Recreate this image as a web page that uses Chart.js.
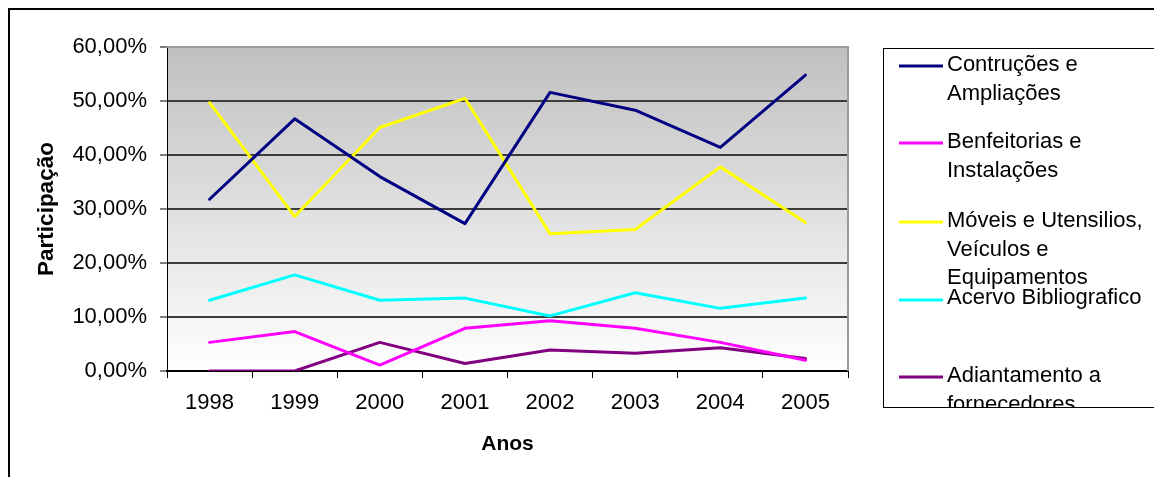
<!DOCTYPE html>
<html>
<head>
<meta charset="utf-8">
<script src="https://cdn.jsdelivr.net/npm/chart.js@4"></script>
<style>
  html, body { margin: 0; padding: 0; background: #fff; overflow: hidden; }
  #frame { position: absolute; left: 8px; top: 8px; width: 1200px; height: 520px; border: 2px solid #000; }
  #wrap { position: absolute; left: 0; top: 0; width: 1154px; height: 477px; }
</style>
</head>
<body>
<div id="frame"></div>
<div id="wrap"><canvas id="grafico" width="1154" height="477"></canvas></div>
<script>
var anos = ["1998", "1999", "2000", "2001", "2002", "2003", "2004", "2005"]
var construcoes = [31.8, 46.7, 36.0, 27.3, 51.6, 48.3, 41.4, 54.8]
var benfeitorias = [5.3, 7.3, 1.1, 7.9, 9.3, 7.9, 5.3, 2.0]
var moveis = [49.7, 28.6, 45.1, 50.5, 25.4, 26.2, 37.8, 27.5]
var acervo = [13.1, 17.8, 13.1, 13.5, 10.2, 14.5, 11.6, 13.5]
var adiantamento = [0, 0, 5.3, 1.4, 3.9, 3.3, 4.3, 2.3]
var yTicks = [0, 10, 20, 30, 40, 50, 60]

var nomes = [
  ["Contruções e", "Ampliações"],
  ["Benfeitorias e", "Instalações"],
  ["Móveis e Utensilios,", "Veículos e", "Equipamentos"],
  ["Acervo Bibliografico"],
  ["Adiantamento a", "fornecedores"]
]
var cores = ["#000080", "#FF00FF", "#FFFF00", "#00FFFF", "#800080"]
var series = [construcoes, benfeitorias, moveis, acervo, adiantamento]

var fonte = "'Liberation Sans', Arial, sans-serif"

// fundo degradê + borda cinza da área de plotagem
var fundo = {
  id: 'fundo',
  beforeDatasetsDraw: function(chart) {
    var a = chart.chartArea, ctx = chart.ctx
    ctx.save()
    var g = ctx.createLinearGradient(0, a.top, 0, a.bottom)
    g.addColorStop(0, '#c0c0c0')
    g.addColorStop(1, '#ffffff')
    ctx.fillStyle = g
    ctx.globalCompositeOperation = 'destination-over'
    ctx.fillRect(a.left, a.top, a.right - a.left, a.bottom - a.top)
    ctx.globalCompositeOperation = 'source-over'
    ctx.strokeStyle = '#9a9a9a'
    ctx.lineWidth = 2
    ctx.beginPath()
    ctx.moveTo(a.left, a.top)
    ctx.lineTo(a.right, a.top)
    ctx.lineTo(a.right, a.bottom)
    ctx.stroke()
    ctx.restore()
  }
}

// legenda estilo Excel (caixa cortada à direita e embaixo)
var legenda = {
  id: 'legenda',
  afterDraw: function(chart) {
    var ctx = chart.ctx
    var bx = 883, by = 48, bb = 408
    var linhaY = [66, 143, 222, 300, 377]
    var textoY = [65, 142, 221, 298, 376]
    ctx.save()
    ctx.beginPath()
    ctx.rect(bx, by, chart.width - bx, bb - by)
    ctx.clip()
    ctx.strokeStyle = '#000'
    ctx.lineWidth = 1
    ctx.strokeRect(bx + 0.5, by + 0.5, chart.width, bb - by - 1)
    chart.data.datasets.forEach(function(ds, i) {
      ctx.strokeStyle = ds.borderColor
      ctx.lineWidth = 3
      ctx.beginPath()
      ctx.moveTo(899, linhaY[i])
      ctx.lineTo(943, linhaY[i])
      ctx.stroke()
      ctx.fillStyle = '#000'
      ctx.font = '22px ' + fonte
      ctx.textBaseline = 'middle'
      ctx.textAlign = 'left'
      nomes[i].forEach(function(t, j) {
        ctx.fillText(t, 947, textoY[i] + j * 28.5)
      })
    })
    ctx.restore()
  }
}

new Chart("grafico", {
  type: "line",
  data: {
    labels: anos,
    datasets: series.map(function(s, i) {
      return {
        label: nomes[i].join(" "),
        data: s,
        borderColor: cores[i],
        backgroundColor: cores[i],
        borderWidth: 3,
        pointRadius: 0,
        tension: 0,
        borderJoinStyle: 'round',
        borderCapStyle: 'round',
        order: i
      }
    })
  },
  options: {
    responsive: false,
    animation: false,
    layout: {
      padding: { top: 47, right: 306, left: 0, bottom: 0 }
    },
    plugins: {
      legend: { display: false },
      tooltip: { enabled: false }
    },
    scales: {
      y: {
        min: 0,
        max: 60,
        afterFit: function(scale) { scale.width = 167 },
        afterBuildTicks: function(scale) { scale.ticks = yTicks.map(function(v) { return { value: v } }) },
        ticks: {
          color: '#000',
          padding: 13,
          font: { family: fonte, size: 22 },
          callback: function(v) { return v.toFixed(2).replace('.', ',') + '%' }
        },
        grid: {
          color: function(c) { return (c.tick && c.tick.value == 60) ? 'rgba(0,0,0,0)' : '#3c3c3c' },
          lineWidth: 2,
          tickColor: '#000',
          tickLength: 7,
          tickWidth: 1
        },
        border: { color: '#000', width: 1 },
        title: {
          display: true,
          text: 'Participação',
          color: '#000',
          font: { family: fonte, size: 22.5, weight: 'bold' },
          padding: { top: 33, bottom: 0 }
        }
      },
      x: {
        offset: true,
        afterFit: function(scale) { scale.height = 106 },
        ticks: {
          color: '#000',
          padding: 12,
          font: { family: fonte, size: 22 }
        },
        grid: {
          offset: true,
          drawOnChartArea: false,
          tickColor: '#000',
          tickLength: 7
        },
        border: { color: '#000', width: 2 },
        title: {
          display: true,
          text: 'Anos',
          color: '#000',
          font: { family: fonte, size: 21, weight: 'bold' },
          padding: { top: 0, bottom: 20 }
        }
      }
    }
  },
  plugins: [fundo, legenda]
});
</script>
</body>
</html>
